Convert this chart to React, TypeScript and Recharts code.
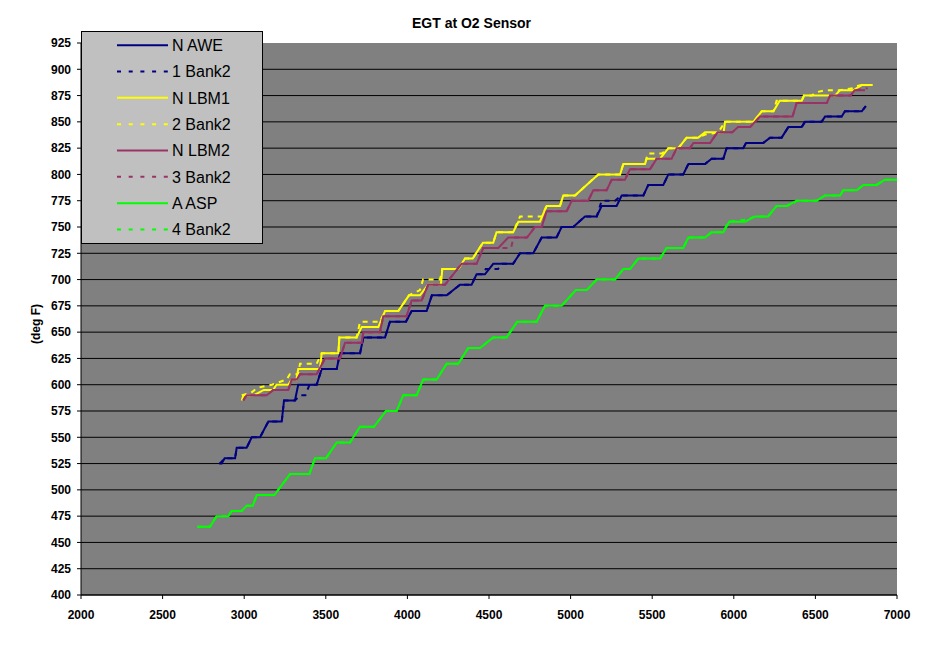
import { LineChart, Line, XAxis, YAxis, CartesianGrid, Legend } from 'recharts';

const xTicks = [2000, 2500, 3000, 3500, 4000, 4500, 5000, 5500, 6000, 6500, 7000];
const yTicks = [400, 425, 450, 475, 500, 525, 550, 575, 600, 625, 650, 675, 700, 725, 750, 775, 800, 825, 850, 875, 900, 925];
// Excel leaves the top gridline out
const gridValues = yTicks.filter((v) => v < 925);

// [rpm, deg F]
const nAwe: [number, number][] = [
  [2847, 525], [2862, 525], [2880, 530], [2944, 530], [2954, 540], [3015, 540], [3046, 550], [3097, 550],
  [3148, 565], [3230, 565], [3244, 585], [3311, 585], [3331, 600], [3444, 600], [3475, 615], [3567, 615],
  [3587, 630], [3710, 630], [3730, 645], [3863, 645], [3893, 660], [3991, 660], [4026, 670], [4118, 670],
  [4150, 685], [4241, 685], [4322, 695], [4393, 695], [4424, 705], [4475, 705], [4526, 715], [4648, 715],
  [4690, 725], [4771, 725], [4823, 740], [4914, 740], [4945, 750], [5016, 750], [5088, 760], [5160, 760],
  [5190, 770], [5282, 770], [5313, 780], [5446, 780], [5476, 790], [5568, 790], [5599, 800], [5690, 800],
  [5722, 810], [5824, 810], [5864, 815], [5936, 815], [5956, 825], [6058, 825], [6075, 830], [6181, 830],
  [6222, 835], [6293, 835], [6334, 845], [6416, 845], [6436, 850], [6538, 850], [6559, 855], [6661, 855],
  [6681, 860], [6784, 860], [6809, 865],
];

const bank2_1: [number, number][] = [
  [2850, 525], [2880, 530], [2944, 530], [2954, 540], [3015, 540], [3046, 550], [3097, 550], [3148, 565],
  [3230, 565], [3244, 585], [3311, 585], [3345, 590], [3375, 590], [3400, 600], [3444, 600], [3475, 615],
  [3567, 615], [3587, 630], [3710, 630], [3730, 645], [3863, 645], [3893, 660], [3991, 660], [4026, 670],
  [4118, 670], [4150, 685], [4241, 685], [4322, 695], [4393, 695], [4424, 705], [4460, 705], [4480, 710],
  [4555, 710], [4580, 715], [4648, 715], [4690, 725], [4771, 725], [4823, 740], [4914, 740], [4945, 750],
  [5016, 750], [5088, 760], [5160, 760], [5190, 775], [5272, 775], [5313, 780], [5446, 780], [5476, 790],
  [5568, 790], [5599, 800], [5690, 800], [5722, 810], [5824, 810], [5864, 815], [5936, 815], [5956, 825],
  [6058, 825], [6075, 830], [6181, 830], [6222, 835], [6293, 835], [6334, 845], [6416, 845], [6436, 850],
  [6538, 850], [6559, 855], [6661, 855], [6681, 860], [6784, 860], [6809, 865],
];

const nLbm1: [number, number][] = [
  [2985, 585], [2995, 590], [3060, 590], [3120, 595], [3178, 595], [3197, 600], [3270, 600], [3291, 605],
  [3320, 605], [3331, 615], [3464, 615], [3475, 630], [3577, 630], [3583, 645], [3689, 645], [3720, 655],
  [3822, 655], [3863, 670], [3944, 670], [4010, 685], [4077, 685], [4127, 695], [4205, 695], [4214, 710],
  [4312, 710], [4353, 720], [4400, 720], [4463, 735], [4526, 735], [4546, 745], [4648, 745], [4680, 755],
  [4812, 755], [4853, 770], [4935, 770], [4955, 780], [5027, 780], [5098, 790], [5170, 800], [5303, 800],
  [5323, 810], [5456, 810], [5466, 815], [5548, 815], [5599, 825], [5660, 825], [5711, 835], [5782, 835],
  [5824, 840], [5938, 840], [5946, 850], [6120, 850], [6171, 860], [6243, 860], [6281, 870], [6416, 870],
  [6430, 875], [6620, 875], [6650, 880], [6732, 880], [6784, 885], [6851, 885],
];

const bank2_2: [number, number][] = [
  [2985, 590], [3040, 592], [3080, 597], [3170, 600], [3260, 605], [3280, 610], [3330, 610], [3342, 620],
  [3444, 620], [3475, 630], [3577, 630], [3583, 645], [3689, 645], [3710, 660], [3832, 660], [3863, 670],
  [3944, 670], [4010, 685], [4077, 690], [4096, 700], [4200, 700], [4214, 710], [4312, 710], [4353, 720],
  [4400, 720], [4463, 735], [4526, 735], [4546, 745], [4648, 745], [4690, 760], [4823, 760], [4853, 770],
  [4935, 770], [4955, 780], [5027, 780], [5098, 790], [5170, 800], [5303, 800], [5323, 810], [5456, 810],
  [5473, 820], [5560, 820], [5599, 825], [5660, 825], [5711, 835], [5782, 835], [5824, 838], [5905, 840],
  [5946, 850], [6120, 850], [6171, 860], [6243, 860], [6262, 870], [6416, 870], [6430, 875], [6480, 875],
  [6500, 878], [6560, 880], [6650, 880], [6732, 882], [6750, 884], [6784, 885], [6851, 885],
];

const nLbm2: [number, number][] = [
  [2994, 585], [3015, 590], [3138, 590], [3178, 595], [3270, 595], [3291, 605], [3322, 605], [3342, 610],
  [3444, 610], [3495, 625], [3587, 625], [3618, 640], [3720, 640], [3730, 650], [3832, 650], [3852, 665],
  [3995, 665], [4026, 680], [4087, 680], [4127, 695], [4230, 695], [4332, 715], [4424, 715], [4465, 730],
  [4557, 730], [4618, 740], [4733, 740], [4782, 750], [4823, 750], [4853, 765], [4976, 765], [5007, 775],
  [5108, 775], [5139, 785], [5221, 785], [5252, 795], [5333, 795], [5364, 805], [5487, 805], [5527, 815],
  [5619, 815], [5650, 825], [5732, 825], [5752, 830], [5855, 830], [5900, 840], [5990, 840], [6026, 845],
  [6100, 845], [6160, 855], [6360, 855], [6385, 868], [6570, 868], [6590, 875], [6716, 875], [6740, 880],
  [6804, 880],
];

const bank2_3: [number, number][] = [
  [2994, 585], [3015, 590], [3138, 590], [3178, 595], [3270, 595], [3291, 605], [3322, 605], [3342, 610],
  [3444, 610], [3495, 625], [3587, 625], [3618, 640], [3720, 640], [3730, 650], [3832, 650], [3852, 665],
  [3995, 665], [4026, 680], [4087, 680], [4127, 695], [4230, 695], [4332, 715], [4424, 715], [4465, 730],
  [4635, 730], [4650, 740], [4733, 740], [4782, 750], [4823, 750], [4853, 765], [4976, 765], [5007, 775],
  [5108, 775], [5139, 785], [5221, 785], [5252, 795], [5333, 795], [5364, 805], [5487, 805], [5527, 815],
  [5619, 815], [5650, 825], [5732, 825], [5752, 830], [5855, 830], [5900, 840], [5990, 840], [6026, 845],
  [6100, 845], [6160, 855], [6360, 855], [6385, 868], [6570, 868], [6590, 875], [6716, 875], [6740, 880],
  [6820, 882],
];

const aAsp: [number, number][] = [
  [2713, 465], [2790, 465], [2831, 475], [2903, 475], [2923, 480], [2985, 480], [3015, 485], [3052, 485],
  [3077, 495], [3185, 495], [3281, 515], [3399, 515], [3434, 530], [3501, 530], [3567, 545], [3648, 545],
  [3710, 560], [3795, 560], [3869, 575], [3934, 575], [3975, 590], [4057, 590], [4097, 605], [4179, 605],
  [4241, 620], [4312, 620], [4373, 635], [4445, 635], [4526, 645], [4608, 645], [4673, 660], [4792, 660],
  [4843, 675], [4945, 675], [5032, 690], [5098, 690], [5160, 700], [5272, 700], [5323, 710], [5364, 710],
  [5415, 720], [5548, 720], [5588, 730], [5690, 730], [5722, 740], [5824, 740], [5864, 745], [5936, 745],
  [5972, 755], [6069, 755], [6130, 760], [6210, 760], [6262, 770], [6324, 770], [6385, 775], [6508, 775],
  [6559, 780], [6651, 780], [6671, 785], [6753, 785], [6794, 790], [6875, 790], [6926, 795], [7000, 795],
];

const bank2_4: [number, number][] = [
  [2713, 465], [2790, 465], [2831, 475], [2903, 475], [2923, 480], [2985, 480], [3015, 485], [3052, 485],
  [3077, 495], [3185, 495], [3281, 515], [3399, 515], [3434, 530], [3501, 530], [3567, 545], [3648, 545],
  [3710, 560], [3795, 560], [3869, 575], [3934, 575], [3975, 590], [4057, 590], [4097, 605], [4179, 605],
  [4241, 620], [4312, 620], [4373, 635], [4445, 635], [4526, 645], [4608, 645], [4673, 660], [4792, 660],
  [4843, 675], [4945, 675], [5032, 690], [5098, 690], [5160, 700], [5272, 700], [5323, 710], [5364, 710],
  [5415, 720], [5548, 720], [5588, 730], [5690, 730], [5722, 740], [5824, 740], [5864, 745], [5936, 745],
  [5965, 755], [6079, 757], [6130, 760], [6210, 760], [6262, 770], [6324, 770], [6363, 772], [6385, 775],
  [6508, 775], [6559, 780], [6651, 780], [6671, 785], [6753, 785], [6794, 790], [6875, 790], [6926, 795],
  [7000, 795],
];

const series = [
  { name: 'N AWE', rows: nAwe, color: '#000080', dashed: false },
  { name: '1 Bank2', rows: bank2_1, color: '#000080', dashed: true },
  { name: 'N LBM1', rows: nLbm1, color: '#FFFF00', dashed: false },
  { name: '2 Bank2', rows: bank2_2, color: '#FFFF00', dashed: true },
  { name: 'N LBM2', rows: nLbm2, color: '#993366', dashed: false },
  { name: '3 Bank2', rows: bank2_3, color: '#993366', dashed: true },
  { name: 'A ASP', rows: aAsp, color: '#00FF00', dashed: false },
  { name: '4 Bank2', rows: bank2_4, color: '#00FF00', dashed: true },
];

const FONT = '"Liberation Sans", Arial, sans-serif';
const tickStyle = { fontFamily: FONT, fontSize: 12, fontWeight: 'bold', fill: '#000' };

const toPoints = (rows: [number, number][]) => rows.map(([rpm, t]) => ({ rpm, t }));

function LegendBox() {
  return (
    <svg width={183} height={214} style={{ display: 'block' }}>
      <rect x={0.5} y={0.5} width={181} height={212} fill="#C0C0C0" stroke="#000" />
      {series.map((s, i) => {
        const y = 14.2 + i * 26.33;
        return (
          <g key={s.name}>
            <line
              x1={36}
              x2={87}
              y1={y}
              y2={y}
              stroke={s.color}
              strokeWidth={2}
              strokeDasharray={s.dashed ? '4 7.7' : undefined}
            />
            <text x={91} y={y + 5.7} fontFamily={FONT} fontSize={16} fill="#000">
              {s.name}
            </text>
          </g>
        );
      })}
    </svg>
  );
}

function YLabel() {
  return (
    <text
      x={36}
      y={324}
      transform="rotate(-90 36 324)"
      textAnchor="middle"
      dominantBaseline="central"
      fontFamily={FONT}
      fontSize={12}
      fontWeight="bold"
      fill="#000"
    >
      (deg F)
    </text>
  );
}

export default function App() {
  return (
    <div style={{ position: 'absolute', left: 0, top: 0, width: 943, height: 645, background: '#fff' }}>
      <div
        style={{
          position: 'absolute',
          left: 0,
          top: 15,
          width: 943,
          textAlign: 'center',
          fontFamily: FONT,
          fontSize: 14,
          fontWeight: 'bold',
          lineHeight: '16px',
          zIndex: 2,
        }}
      >
        EGT at O2 Sensor
      </div>
      <LineChart width={943} height={645} margin={{ top: 43, right: 46, bottom: 20, left: 0 }}>
        <CartesianGrid
          vertical={false}
          horizontalValues={gridValues}
          stroke="#000"
          fill="#808080"
          fillOpacity={1}
        />
        <XAxis
          type="number"
          dataKey="rpm"
          domain={[2000, 7000]}
          ticks={xTicks}
          height={30}
          tickSize={4}
          tickMargin={11}
          tick={tickStyle}
          stroke="#000"
          tickLine={{ stroke: '#000' }}
          axisLine={{ stroke: '#000' }}
        />
        <YAxis
          type="number"
          domain={[400, 925]}
          ticks={yTicks}
          width={81}
          tickSize={4}
          tickMargin={6}
          tick={tickStyle}
          stroke="#000"
          tickLine={{ stroke: '#000' }}
          axisLine={{ stroke: '#000' }}
          label={<YLabel />}
        />
        {series.map((s) => (
          <Line
            key={s.name}
            data={toPoints(s.rows)}
            dataKey="t"
            name={s.name}
            type="linear"
            stroke={s.color}
            strokeWidth={2}
            strokeDasharray={s.dashed ? '5 5' : undefined}
            dot={false}
            activeDot={false}
            isAnimationActive={false}
          />
        ))}
        <Legend
          layout="vertical"
          align="center"
          verticalAlign="middle"
          wrapperStyle={{ left: 81, top: 31, width: 183, height: 214 }}
          content={() => <LegendBox />}
        />
      </LineChart>
    </div>
  );
}
